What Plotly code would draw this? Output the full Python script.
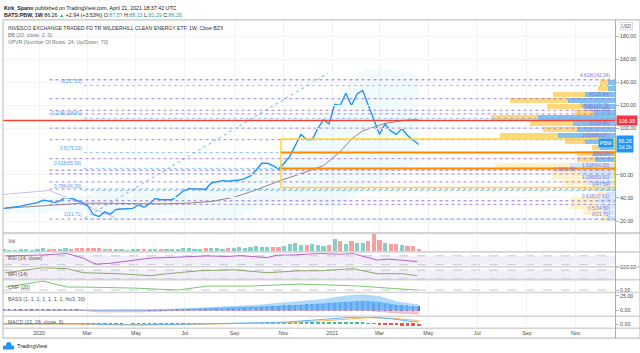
import plotly.graph_objects as go
import pandas as pd

W, H = 640, 353
def fx(p): return p / W
def fy(p): return 1 - p / H

# ---------------- DATA ----------------
week_start = "2019-11-18"
close = [31, 31.5, 32, 33, 34, 35, 36, 38, 37.5, 36,
         37.5, 40.5, 40, 38, 36, 33, 25.5, 24, 28, 26,
         30, 30.5, 30.5, 31, 34, 32, 35, 39.5, 38.5, 38.5,
         38.5, 42, 46, 48, 48, 48, 47.5, 53, 54, 55,
         54.5, 55, 55.5, 57, 59, 64, 70, 70, 68, 65,
         70, 76, 86, 95, 90.6, 90.6, 100, 107.6, 104, 121,
         120, 130.6, 120, 130, 133, 120, 108, 95, 104, 98,
         95, 100, 94, 90, 86.26]
volume = [1.3, 1.0, 1.2, 1.4, 1.6, 1.1, 1.5, 1.9, 1.4, 1.3,
          1.6, 1.8, 1.7, 1.9, 2.0, 2.2, 2.0, 1.8, 1.5, 1.4,
          1.6, 1.3, 1.2, 1.5, 1.6, 1.3, 1.4, 1.6, 1.5, 1.4,
          1.3, 1.7, 1.9, 2.0, 1.6, 1.5, 1.8, 2.0, 1.9, 1.7,
          2.2, 2.0, 2.4, 2.3, 2.6, 3.2, 2.8, 2.6, 2.5, 2.7,
          3.0, 4.2, 4.7, 3.6, 3.4, 4.0, 3.5, 3.2, 3.7, 6.8,
          5.8, 4.2, 5.8, 4.7, 4.7, 5.8, 9.5, 6.3, 4.7, 4.2,
          4.2, 3.7, 3.2, 3.2, 1.6]
bass_columns = [2, 2, 2.5, 2.5, 3, 3, 3, 3, 3, 3, 2.5, 2.5, 2, 2, 1.5,
                0, 0, 0, 0, 0, 0, 0, 0, 0, 0, 0,
                0.5, 1, 1, 1.5, 1.5, 2, 2, 2.5, 2.5, 3, 3, 3.5, 3.5, 4,
                4.5, 5, 5.5, 6, 6.5, 7, 7.5, 8, 8.5, 9, 9.5, 10, 10.5, 11, 11.5, 12, 12, 12.5, 13,
                14, 14.5, 15, 15, 15, 15, 15, 14.5,
                13, 12, 11, 10.5, 10, 9.5, 9, 9]
macd_hist = [0.3, 0.3, 0.3, 0.3, 0.3, 0.3, 0.3, 0.3, 0.3, 0.3, 0.3, 0.3, 0.3, 0.3,
             -1, -1.5, -2, -2, -1.5, -1,
             -0.5, -0.3, 0, 0.3, 0.5, 0.5, 0.8,
             1, 1, 1.2, 1.2, 1.5, 1.5, 1.5, 1.5, 1.8, 1.8, 2, 2, 2, 2, 2, 2, 2, 2,
             2.2, 2.5, 2.5, 2.5, 2.5, 3, 3, 3.5, 3.5, 3.5, 4, 4, 4.5, 4.5,
             5, 5, 5, 4.5, 4, 3.5,
             2, 0.5, -1, -2, -3, -4, -4.5, -5, -5.5, -6]

bb_dates = ["2019-11-18", "2020-01-06", "2020-02-24", "2020-03-16", "2020-04-13", "2020-05-11",
            "2020-06-08", "2020-07-06", "2020-08-03", "2020-08-31", "2020-09-28", "2020-10-26",
            "2020-11-23", "2020-12-21", "2021-01-11", "2021-01-25", "2021-02-08", "2021-03-08",
            "2021-04-05", "2021-04-19"]
bb_basis = [31, 33, 35.5, 35.5, 35, 35, 35, 35.5, 37, 40.5, 47, 54.5, 61, 68, 80, 91, 98, 104.5, 107.5, 107.5]
bb_upper = [36, 39, 42, 46, 47, 46, 44, 46, 52, 58, 64, 72, 86, 104, 128, 142, 150, 152, 148, 145]
bb_lower = [26, 27, 29, 25, 23, 24, 26, 25, 22, 23, 30, 37, 36, 32, 32, 40, 46, 57, 67, 70]

lav_dates = ["2019-11-17", "2020-01-14", "2020-04-05"]
lav_vals = [43, 46.5, 23]
trend_dates = ["2020-02-27", "2020-12-27"]
trend_vals = [22.6, 148]

rsi_dates = ["2019-11-20", "2020-01-06", "2020-02-05", "2020-02-25", "2020-03-07", "2020-03-13",
             "2020-03-29", "2020-04-27", "2020-05-19", "2020-06-09", "2020-07-04", "2020-07-29",
             "2020-08-23", "2020-09-08", "2020-10-12", "2020-10-24", "2020-11-13", "2020-12-04",
             "2020-12-17", "2021-01-11", "2021-01-27", "2021-02-26", "2021-03-11", "2021-03-27",
             "2021-04-17"]
rsi_vals = [70, 74, 80, 60, 40, 33, 36, 48, 60, 62, 65, 70, 67, 71, 62, 73, 74, 77, 80, 77, 80, 51, 55, 51, 44]

mfi_dates = ["2019-11-20", "2020-01-06", "2020-02-05", "2020-02-25", "2020-04-08", "2020-05-19",
             "2020-06-09", "2020-07-20", "2020-08-30", "2020-10-12", "2020-11-22", "2020-12-17",
             "2021-01-27", "2021-02-26", "2021-03-30", "2021-04-17"]
mfi_vals = [62, 95, 89, 62, 55, 42, 55, 75, 82, 62, 75, 75, 89, 55, 55, 42]

cmf_dates = ["2019-11-20", "2020-01-06", "2020-02-05", "2020-02-25", "2020-04-27", "2020-06-22",
             "2020-07-29", "2020-09-20", "2020-10-20", "2020-11-22", "2021-01-02", "2021-02-05",
             "2021-03-11", "2021-04-17"]
cmf_vals = [0.09, 0.27, 0.09, 0.09, 0.06, 0.0, 0.12, 0.12, 0.15, 0.18, 0.15, 0.12, 0.06, 0.0]

bass_dates = ["2019-11-18", "2020-01-06", "2020-02-24", "2020-03-16", "2020-04-13", "2020-05-11",
              "2020-06-08", "2020-07-06", "2020-08-03", "2020-08-31", "2020-09-28", "2020-10-26",
              "2020-11-23", "2020-12-21", "2021-01-18", "2021-02-08", "2021-03-01", "2021-03-22",
              "2021-04-19"]
bass_light = [0.5, 1, 1, 0, 0, 0.5, 1.5, 3, 5, 7, 9, 12, 15, 19, 25, 27, 24, 15, 9.5]
bass_dark = [0.3, 0.6, 0.6, 0, 0, 0.3, 1, 2, 3, 4, 5.5, 7, 9, 12, 15, 16, 14, 9, 5]
bass_neg = [0, 0, 0, -3, -3.2, -2.5, -1, 0, 0, 0, 0, 0, 0, 0, 0, 0, -2, -4.5, -6.5]

macd_dates = ["2019-11-18", "2020-02-24", "2020-03-30", "2020-05-04", "2020-06-29", "2020-08-31",
              "2020-11-02", "2020-12-21", "2021-01-25", "2021-02-15", "2021-03-15", "2021-04-19"]
macd_line = [1, 2, -1.5, -2, 0, 3, 6, 14, 20, 21, 16, 6]
signal_line = [0.8, 1.5, 0, -1.5, -1, 2, 4.5, 10, 16, 19, 17.5, 10.5]

# volume profile rows (price centre, up volume, down volume)
vp_price = [22.6, 27.7, 32.8, 37.9, 43.0, 48.1, 53.2, 58.3, 63.4, 68.5, 73.6, 78.7,
            83.8, 88.9, 94.0, 99.1, 104.2, 109.3, 114.4, 119.5, 124.6, 129.7, 134.8, 139.9]
vp_up = [8, 12, 15, 17, 9, 18, 28, 33, 35, 45, 20, 22, 15, 30, 57, 38, 42, 77, 22, 32, 47, 30, 7, 7]
vp_down = [6, 20, 30, 27, 8, 17, 24, 30, 30, 75, 18, 16, 8, 20, 58, 34, 43, 47, 18, 36, 58, 32, 10, 8]
va_low, va_high = 71, 143

fib_ret_start = "2020-02-26"
fib_ret_levels = [137.15, 108.81, 79.23, 65.56, 46.39, 21.71]
fib_ret_labels = ["0(137.15)", "0.236(108.81)", "0.5(79.23)", "0.618(65.56)", "0.786(46.39)", "1(21.71)"]
fib_ext_start = "2020-01-14"
fib_ext_levels = [142.24, 125.84, 115.79, 112.68, 100.45, 90.37, 74.07, 64.00, 60.88, 53.91, 47.69, 37.61, 34.50, 21.71]
fib_ext_labels = ["4.618(142.24)", "4(125.84)", "3.618(115.79)", "3.5(112.68)", "3(100.45)", "2.618(90.37)",
                  "2(74.07)", "1.618(64.00)", "1.5(60.88)", "1.236(53.91)", "1(47.69)", "0.618(37.61)",
                  "0.5(34.50)", "0(21.71)"]
red_level = 106.95
zone_start = "2020-10-29"
zone_top, zone_bottom = 91.1, 49.0
orange_levels = [79.23, 65.56]
last_price = 86.26

price_ticks = [20, 40, 60, 100, 120, 140, 160, 180]
month_ticks = ["2020-01-01", "2020-03-01", "2020-05-01", "2020-07-01", "2020-09-01", "2020-11-01",
               "2021-01-01", "2021-03-01", "2021-05-01", "2021-07-01", "2021-09-01", "2021-11-01"]
month_text = ["2020", "Mar", "May", "Jul", "Sep", "Nov", "2021", "Mar", "May", "Jul", "Sep", "Nov"]
x_range = ["2019-11-17", "2021-12-20"]

# ---------------- FIGURE ----------------
weeks = pd.date_range(week_start, periods=len(close), freq="7D")
DAY = 86400000
FONT = "Liberation Sans"
GRID = "#f0f3fa"

fig = go.Figure()

# Volume profile (right side) - own x axis sharing the price y axis
in_va = [va_low <= p <= va_high for p in vp_price]
fig.add_trace(go.Bar(y=vp_price, x=vp_up, orientation="h", width=4.3,
                     marker=dict(color=["#84bff0" if v else "#d2e7f9" for v in in_va], line=dict(width=0)),
                     xaxis="x8", yaxis="y"))
fig.add_trace(go.Bar(y=vp_price, x=vp_down, orientation="h", width=4.3,
                     marker=dict(color=["#ffd77c" if v else "#fff0cc" for v in in_va], line=dict(width=0)),
                     xaxis="x8", yaxis="y"))

# Bollinger fill
fig.add_trace(go.Scatter(x=bb_dates, y=bb_upper, mode="lines", line=dict(width=0), hoverinfo="skip",
                         xaxis="x", yaxis="y"))
fig.add_trace(go.Scatter(x=bb_dates, y=bb_lower, mode="lines", line=dict(width=0), fill="tonexty",
                         fillcolor="rgba(0,172,193,0.05)", hoverinfo="skip", xaxis="x", yaxis="y"))
fig.add_trace(go.Scatter(x=bb_dates, y=bb_basis, mode="lines", line=dict(color="#a1807c", width=1),
                         xaxis="x", yaxis="y"))
fig.add_trace(go.Scatter(x=lav_dates, y=lav_vals, mode="lines", line=dict(color="#cdbde8", width=1),
                         xaxis="x", yaxis="y"))
fig.add_trace(go.Scatter(x=trend_dates, y=trend_vals, mode="lines",
                         line=dict(color="#90caf9", width=1.2, dash="dot"), xaxis="x", yaxis="y"))
fig.add_trace(go.Scatter(x=weeks, y=close, mode="lines", line=dict(color="#2196f3", width=1.4),
                         xaxis="x", yaxis="y"))

# Volume
vcol = ["rgba(38,166,154,0.55)" if (i == 0 or close[i] >= close[i - 1]) else "rgba(239,83,80,0.55)"
        for i in range(len(close))]
fig.add_trace(go.Bar(x=weeks, y=volume, width=5.2 * DAY, marker=dict(color=vcol, line=dict(width=0)),
                     xaxis="x2", yaxis="y2"))
# RSI
fig.add_trace(go.Scatter(x=rsi_dates, y=rsi_vals, mode="lines", line=dict(color="#b461c8", width=1),
                         xaxis="x3", yaxis="y3"))
# MFI
fig.add_trace(go.Scatter(x=mfi_dates, y=mfi_vals, mode="lines", line=dict(color="#8aa86a", width=1),
                         xaxis="x4", yaxis="y4"))
# CMF
fig.add_trace(go.Scatter(x=cmf_dates, y=cmf_vals, mode="lines", line=dict(color="#7cc576", width=1),
                         xaxis="x5", yaxis="y5"))
# BASS
fig.add_trace(go.Scatter(x=bass_dates, y=bass_light, mode="lines", line=dict(color="#90caf9", width=0.5),
                         fill="tozeroy", fillcolor="rgba(144,202,249,0.7)", xaxis="x6", yaxis="y6"))
fig.add_trace(go.Scatter(x=bass_dates, y=bass_dark, mode="lines", line=dict(color="#42a5f5", width=0.5),
                         fill="tozeroy", fillcolor="rgba(66,165,245,0.55)", xaxis="x6", yaxis="y6"))
fig.add_trace(go.Scatter(x=bass_dates, y=bass_neg, mode="lines", line=dict(color="#ef9a9a", width=0.5),
                         fill="tozeroy", fillcolor="rgba(239,83,80,0.35)", xaxis="x6", yaxis="y6"))
fig.add_trace(go.Bar(x=weeks, y=bass_columns, width=2.4 * DAY, marker=dict(color="#8e44c4", line=dict(width=0)),
                     xaxis="x6", yaxis="y6"))
# MACD
hcol = ["#4db6ac" if v >= 0 else "#ef5350" for v in macd_hist]
fig.add_trace(go.Bar(x=weeks, y=macd_hist, width=4.5 * DAY, marker=dict(color=hcol, line=dict(width=0)),
                     xaxis="x7", yaxis="y7"))
fig.add_trace(go.Scatter(x=macd_dates, y=signal_line, mode="lines", line=dict(color="#ffb74d", width=1),
                         xaxis="x7", yaxis="y7"))
fig.add_trace(go.Scatter(x=macd_dates, y=macd_line, mode="lines", line=dict(color="#64b5f6", width=1),
                         xaxis="x7", yaxis="y7"))

# ---------------- AXES ----------------
xdom = [fx(3), fx(615)]
panes = [(17, 232), (232, 251), (251, 266), (266, 279), (279, 292), (292, 316), (316, 328)]
axfont = dict(family=FONT, size=5.3, color="#4a4a4a")
for i, (top, bot) in enumerate(panes):
    n = "" if i == 0 else str(i + 1)
    fig.update_layout(**{
        "xaxis" + n: dict(domain=xdom, anchor="y" + n, type="date", range=x_range, autorange=False,
                          tickvals=month_ticks, ticktext=month_text, showgrid=True, gridcolor=GRID,
                          gridwidth=1, zeroline=False, showline=False, ticks="",
                          showticklabels=(i == 6), tickfont=axfont, fixedrange=True),
        "yaxis" + n: dict(domain=[fy(bot), fy(top)], anchor="x" + n, side="right", zeroline=False,
                          showline=False, showgrid=False, ticks="outside", ticklen=3, tickcolor="#b2b5be",
                          tickfont=axfont, fixedrange=True, autorange=False),
    })

fig.update_layout(
    yaxis=dict(range=[9.7, 194], tickvals=price_ticks, ticktext=[f"{v:.2f}" for v in price_ticks],
               showgrid=True, gridcolor=GRID),
    yaxis2=dict(range=[0, 10], showticklabels=False, ticks=""),
    yaxis3=dict(range=[21.1, 87.8], showticklabels=False, ticks=""),
    yaxis4=dict(range=[15.3, 102], tickvals=[100], ticktext=["100.00"]),
    yaxis5=dict(range=[-0.075, 0.315], tickvals=[0], ticktext=["0.00"]),
    yaxis6=dict(range=[-10.3, 31], tickvals=[0, 25], ticktext=["0.00", "25.00"]),
    yaxis7=dict(range=[-11.4, 22.9], tickvals=[0], ticktext=["0.00"]),
    xaxis8=dict(domain=xdom, anchor="y", range=[612, 0], autorange=False, visible=False, fixedrange=True),
)

# ---------------- SHAPES ----------------
shapes = []
for xr, yr, lo, hi in [("x3", "y3", 30, 70), ("x4", "y4", 20, 80)]:
    shapes.append(dict(type="rect", xref=xr + " domain", yref=yr, x0=0, x1=1, y0=lo, y1=hi,
                       fillcolor="rgba(126,87,194,0.10)", line=dict(width=0), layer="below"))
    for lv in (lo, hi):
        shapes.append(dict(type="line", xref=xr + " domain", yref=yr, x0=0, x1=1, y0=lv, y1=lv,
                           line=dict(color="#b8b8c8", width=0.8, dash="dash"), layer="below"))
shapes.append(dict(type="line", xref="x5 domain", yref="y5", x0=0, x1=1, y0=0, y1=0,
                   line=dict(color="#b8b8c8", width=0.8, dash="dash"), layer="below"))

for lv in fib_ext_levels:
    shapes.append(dict(type="line", xref="x", yref="y", x0=fib_ext_start, x1=x_range[1], y0=lv, y1=lv,
                       line=dict(color="rgba(149,117,205,0.7)", width=1.3, dash="dot")))
for lv in fib_ret_levels:
    shapes.append(dict(type="line", xref="x", yref="y", x0=fib_ret_start, x1=x_range[1], y0=lv, y1=lv,
                       line=dict(color="rgba(100,181,246,0.75)", width=1, dash="dot")))
shapes.append(dict(type="rect", xref="x", yref="y", x0=zone_start, x1=x_range[1], y0=zone_bottom, y1=zone_top,
                   line=dict(color="#fdd835", width=1.5), fillcolor="rgba(0,0,0,0)"))
for lv in orange_levels:
    shapes.append(dict(type="line", xref="x", yref="y", x0=zone_start, x1=x_range[1], y0=lv, y1=lv,
                       line=dict(color="#fb8c00", width=2)))
shapes.append(dict(type="line", xref="x domain", yref="y", x0=0, x1=1, y0=red_level, y1=red_level,
                   line=dict(color="#f44336", width=1.6)))

for p, wdt in [(232, 2.2), (251, 1.6), (266, 1.6), (279, 1.6), (292, 1.6), (316, 1.6), (328, 1.6)]:
    shapes.append(dict(type="line", xref="paper", yref="paper", x0=fx(3), x1=fx(640), y0=fy(p), y1=fy(p),
                       line=dict(color="#d4d4d4", width=wdt)))
shapes.append(dict(type="rect", xref="paper", yref="paper", x0=fx(3), x1=fx(640), y0=fy(338), y1=fy(17),
                   line=dict(color="#c4c4c4", width=1.2)))
shapes.append(dict(type="line", xref="paper", yref="paper", x0=fx(615.5), x1=fx(615.5), y0=fy(338), y1=fy(17),
                   line=dict(color="#a9acb5", width=1)))
shapes.append(dict(type="circle", xref="paper", yref="paper", x0=fx(6), x1=fx(11.5), y0=fy(349), y1=fy(342),
                   fillcolor="#2196f3", line=dict(width=0)))
shapes.append(dict(type="rect", xref="paper", yref="paper", x0=fx(3), x1=fx(14), y0=fy(349.5), y1=fy(345.5),
                   fillcolor="#2196f3", line=dict(width=0)))
fig.update_layout(shapes=shapes)

# ---------------- ANNOTATIONS ----------------
ann = []
def txt(x, y, s, size=5.5, color="#131722", xanchor="left", **kw):
    ann.append(dict(x=fx(x), y=fy(y), xref="paper", yref="paper", text=s, showarrow=False,
                    xanchor=xanchor, yanchor="middle", font=dict(family=FONT, size=size, color=color), **kw))

G = "#26a69a"
txt(2, 5, "<b>Kirk_Spano</b> published on TradingView.com, April 21, 2021 18:37:42 UTC", 5.3)
txt(2, 12.5, f"<b>BATS:PBW, 1W</b> 86.26 <span style='color:{G}'>▲</span> +2.94 (+3.53%) "
             f"O:<span style='color:{G}'>87.57</span> H:<span style='color:{G}'>88.13</span> "
             f"L:<span style='color:{G}'>81.29</span> C:<span style='color:{G}'>86.26</span>", 5.3)
txt(6, 25, "INVESCO EXCHANGE TRADED FD TR WILDERHILL CLEAN ENERGY ETF, 1W, Cboe BZX", 5.2, "#333")
txt(6, 32, "BB (20, close, 2, 0)", 5.2, "#777")
txt(6, 39, "VPVR (Number Of Rows, 24, Up/Down, 70)", 5.2, "#777")
txt(6, 240, "Vol", 5.2, "#555")
txt(6, 257.5, "RSI (14, close)", 5.2, "#555")
txt(6, 273, "MFI (14)", 5.2, "#555")
txt(6, 286, "CMF (20)", 5.2, "#555")
txt(6, 298.5, "BASS (1, 1, 1, 1, 1, 1, 1, hlc3, 30)", 5.2, "#555")
txt(6, 321.5, "MACD (12, 26, close, 9)", 5.2, "#555")
txt(15, 346, "TradingView", 5.5, "#131722")
txt(626, 23.5, "USD", 4.5, "#555", xanchor="center", bordercolor="#c8c8c8", borderwidth=0.6, borderpad=1)

for lv, s in zip(fib_ret_levels, fib_ret_labels):
    ann.append(dict(x=fib_ret_start, y=lv, xref="x", yref="y", text=s, showarrow=False, xanchor="right",
                    yanchor="bottom", font=dict(family=FONT, size=4.8, color="#4a9ff0")))
for lv, s in zip(fib_ext_levels, fib_ext_labels):
    shift = -34 if s.startswith("1.5(") else 0
    yanc = "top" if s.startswith("0.5(") else "bottom"
    ann.append(dict(x=fx(612), y=lv, xref="paper", yref="y", text=s, showarrow=False, xanchor="right",
                    yanchor=yanc, xshift=shift, font=dict(family=FONT, size=4.8, color="#8c6fcc")))

ann.append(dict(x=fx(616), y=red_level, xref="paper", yref="y", text="106.95", showarrow=False,
                xanchor="left", yanchor="middle", bgcolor="#f23645", borderpad=1.5,
                font=dict(family=FONT, size=5.5, color="white")))
ann.append(dict(x=fx(616), y=last_price, xref="paper", yref="y", text="86.26<br>2d 2h", showarrow=False,
                xanchor="left", yanchor="middle", bgcolor="#2196f3", borderpad=1.5,
                font=dict(family=FONT, size=5.3, color="white")))
ann.append(dict(x=fx(614), y=last_price + 1.5, xref="paper", yref="y", text="PBW", showarrow=False,
                xanchor="right", yanchor="middle", bgcolor="#2196f3", borderpad=1.2, bordercolor="#90caf9",
                borderwidth=0.6, font=dict(family=FONT, size=5.3, color="white")))

fig.update_layout(
    annotations=ann,
    width=W, height=H, margin=dict(l=0, r=0, t=0, b=0),
    paper_bgcolor="white", plot_bgcolor="rgba(0,0,0,0)",
    showlegend=False, barmode="relative", bargap=0,
    font=dict(family=FONT, size=6, color="#4a4a4a"),
)

fig.write_html("out.html", config={"displayModeBar": False})
